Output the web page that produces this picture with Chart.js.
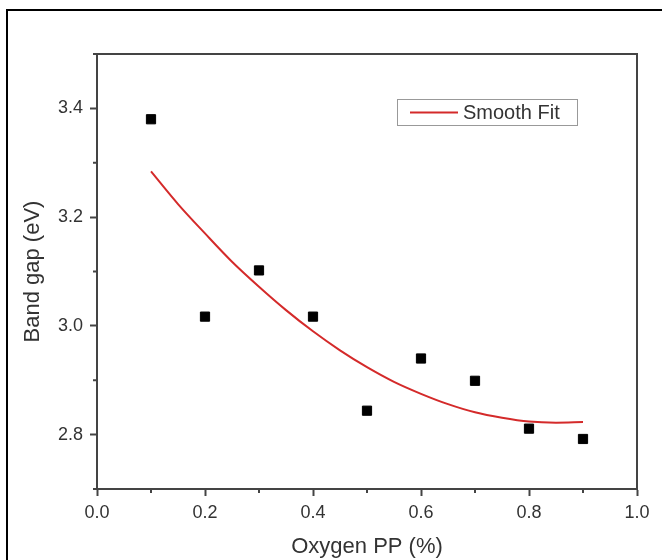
<!DOCTYPE html>
<html><head><meta charset="utf-8">
<script src="https://cdn.jsdelivr.net/npm/chart.js@4/dist/chart.umd.min.js"></script>
<style>
html,body{margin:0;padding:0;background:#fff;overflow:hidden;width:662px;height:560px;}
#frame{position:absolute;left:6px;top:9px;width:800px;height:800px;border:2px solid #000;}
#wrap{position:absolute;left:0;top:0;width:662px;height:560px;}
</style></head><body>
<div id="frame"></div>
<div id="wrap"><canvas id="c" width="662" height="560"></canvas></div>
<script>
// measured data
const oxygenPP = [0.1, 0.2, 0.3, 0.4, 0.5, 0.6, 0.7, 0.8, 0.9];
const bandGap  = [3.380, 3.017, 3.102, 3.017, 2.844, 2.940, 2.899, 2.811, 2.792];
// smooth fit curve
const fitX = [0.10, 0.15, 0.20, 0.25, 0.30, 0.35, 0.40, 0.45, 0.50, 0.55, 0.60, 0.65, 0.70, 0.75, 0.80, 0.85, 0.90];
const fitY = [3.284, 3.224, 3.170, 3.118, 3.072, 3.029, 2.990, 2.955, 2.924, 2.897, 2.875, 2.856, 2.841, 2.831, 2.824, 2.822, 2.823];
// ticks
const xTicks = [0.0, 0.2, 0.4, 0.6, 0.8, 1.0];
const xMinor = [0.1, 0.3, 0.5, 0.7, 0.9];
const yTicks = [2.8, 3.0, 3.2, 3.4];
const yMinor = [2.7, 2.9, 3.1, 3.3, 3.5];
const seriesLabel = 'Smooth Fit';
const xTitle = 'Oxygen PP (%)';
const yTitle = 'Band gap (eV)';

const FONT = '"Liberation Sans", Arial, Helvetica, sans-serif';
const AX = '#444';
const TXT = '#333';

const pointsData = oxygenPP.map((x, i) => ({x: x, y: bandGap[i]}));
const fitData = fitX.map((x, i) => ({x: x, y: fitY[i]}));

const extras = {
  id: 'extras',
  afterDraw(chart) {
    const ctx = chart.ctx, a = chart.chartArea;
    const xs = chart.scales.x, ys = chart.scales.y;
    ctx.save();
    ctx.strokeStyle = AX;
    ctx.lineWidth = 2;
    // top and right frame
    ctx.beginPath();
    ctx.moveTo(a.left, a.top); ctx.lineTo(a.right, a.top); ctx.lineTo(a.right, a.bottom);
    ctx.stroke();
    // minor ticks
    ctx.beginPath();
    xMinor.forEach(v => { const p = xs.getPixelForValue(v); ctx.moveTo(p, a.bottom); ctx.lineTo(p, a.bottom + 4); });
    yMinor.forEach(v => { const p = ys.getPixelForValue(v); ctx.moveTo(a.left, p); ctx.lineTo(a.left - 4, p); });
    ctx.stroke();
    // legend
    const ds = chart.data.datasets[1];
    const lx = a.left + 300, ly = a.top + 45, lw = 180, lh = 26;
    ctx.strokeStyle = '#999'; ctx.lineWidth = 1;
    ctx.strokeRect(lx + 0.5, ly + 0.5, lw, lh);
    ctx.strokeStyle = ds.borderColor; ctx.lineWidth = 2;
    ctx.beginPath(); ctx.moveTo(lx + 13, ly + 13.5); ctx.lineTo(lx + 61, ly + 13.5); ctx.stroke();
    ctx.fillStyle = TXT;
    ctx.font = '20px ' + FONT;
    ctx.textBaseline = 'middle'; ctx.textAlign = 'left';
    ctx.fillText(ds.label, lx + 66, ly + 14);
    ctx.restore();
  }
};

new Chart(document.getElementById('c'), {
  type: 'scatter',
  data: {
    datasets: [
      { label: 'Band gap', data: pointsData, showLine: false, pointStyle: 'rect',
        pointRadius: 6.5, pointHoverRadius: 6.5, backgroundColor: '#000', borderColor: '#000', borderWidth: 1 },
      { label: seriesLabel, data: fitData, showLine: true, pointRadius: 0, borderColor: '#d42a2a',
        borderWidth: 2, cubicInterpolationMode: 'monotone', fill: false }
    ]
  },
  options: {
    responsive: false, animation: false, devicePixelRatio: 1,
    layout: { padding: { left: 0, right: 25, top: 54, bottom: 0 } },
    plugins: { legend: { display: false }, tooltip: { enabled: false } },
    scales: {
      x: {
        type: 'linear', min: 0, max: 1,
        afterBuildTicks: s => { s.ticks = xTicks.map(v => ({value: v})); },
        afterFit: s => { s.height = 71; },
        grid: { drawOnChartArea: false, drawTicks: true, tickLength: 7, tickWidth: 2, tickColor: AX },
        border: { display: true, color: AX, width: 2 },
        ticks: { color: TXT, font: { size: 18, family: FONT }, padding: 6, maxRotation: 0, autoSkip: false,
                 callback: v => Number(v).toFixed(1) },
        title: { display: true, text: xTitle, color: TXT, font: { size: 22, family: FONT }, padding: { top: 0, bottom: 0 } }
      },
      y: {
        type: 'linear', min: 2.7, max: 3.5,
        afterBuildTicks: s => { s.ticks = yTicks.map(v => ({value: v})); },
        afterFit: s => { s.width = 97; },
        grid: { drawOnChartArea: false, drawTicks: true, tickLength: 7, tickWidth: 2, tickColor: AX },
        border: { display: true, color: AX, width: 2 },
        ticks: { color: TXT, font: { size: 18, family: FONT }, padding: 7,
                 callback: v => Number(v).toFixed(1) },
        title: { display: true, text: yTitle, color: TXT, font: { size: 22, family: FONT }, padding: { top: 20, bottom: 0 } }
      }
    }
  },
  plugins: [extras]
});
</script>
</body></html>
